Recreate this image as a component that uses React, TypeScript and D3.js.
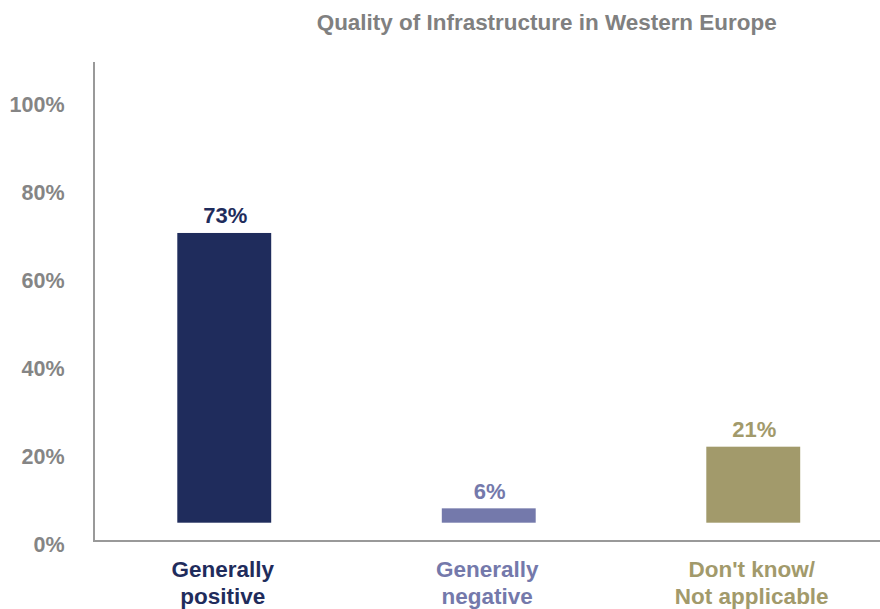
import React from "react";
import * as d3 from "d3";

const categories = ["Generally positive", "Generally negative", "Don't know/ Not applicable"];
const categoryLines = [["Generally", "positive"], ["Generally", "negative"], ["Don't know/", "Not applicable"]];
const values = [73, 6, 21];
const colors = ["#1f2c5c", "#7479ab", "#a29a6b"];
const tickValues = [0, 20, 40, 60, 80, 100];
const title = "Quality of Infrastructure in Western Europe";

const W = 880;
const H = 609;
const FONT = "'Liberation Sans', Arial, sans-serif";

export default function App() {
  const x = d3.scaleBand<string>().domain(categories).range([92, 885.5]).paddingInner(0.645).paddingOuter(0.3225);
  const yAxis = d3.scaleLinear().domain([0, 100]).range([544, 104]);
  const yBar = d3.scaleLinear().domain([0, 100]).range([533, 122]);
  const barBase = 522.7;
  const axisX = 94;
  const axisY = 541;

  return (
    <svg width={W} height={H} style={{ position: "absolute", left: 0, top: 0, background: "#fff" }} fontFamily={FONT}>
      <rect x={0} y={0} width={W} height={H} fill="#fff" />
      <text x={316.7} y={30} textAnchor="start" fontSize={22} fontWeight="bold" fill="#808080" textLength={460} lengthAdjust="spacingAndGlyphs">{title}</text>
      {tickValues.map((t) => (
        <text key={t} x={64.5} y={yAxis(t) + 8} textAnchor="end" fontSize={21.5} fontWeight="bold" fill="#858585">{t}%</text>
      ))}
      {categories.map((c, i) => {
        const bx = x(c) as number;
        const top = yBar(values[i]);
        const cx = bx + x.bandwidth() / 2;
        return (
          <g key={c}>
            <rect x={bx} y={top} width={x.bandwidth()} height={barBase - top} fill={colors[i]} />
            <text x={cx + 1} y={top - 9.5} textAnchor="middle" fontSize={22} fontWeight="bold" fill={colors[i]}>{values[i]}%</text>
            {categoryLines[i].map((ln, j) => (
              <text key={j} x={cx - 1.5} y={577 + j * 26.5} textAnchor="middle" fontSize={22.5} fontWeight="bold" fill={colors[i]}>{ln}</text>
            ))}
          </g>
        );
      })}
      <line x1={axisX} x2={axisX} y1={62} y2={axisY} stroke="#999" strokeWidth={2} />
      <line x1={axisX - 1} x2={W} y1={axisY} y2={axisY} stroke="#999" strokeWidth={2} />
    </svg>
  );
}
